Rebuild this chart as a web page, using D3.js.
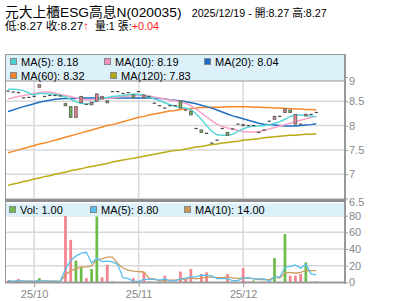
<!DOCTYPE html>
<html>
<head>
<meta charset="utf-8">
<style>
body { margin: 0; background: #fff; }
svg { display: block; font-family: "Liberation Sans", Arial, "Noto Sans CJK TC", sans-serif; }
</style>
</head>
<body>
<script src="https://cdn.jsdelivr.net/npm/d3@7"></script>
<script>

const width = 400;
const height = 301;

const stockName = '元大上櫃ESG高息N(020035)';

const dates = [
  '2025-09-23', '2025-09-24', '2025-09-25', '2025-09-26', '2025-09-30',
  '2025-10-01', '2025-10-02', '2025-10-03', '2025-10-07', '2025-10-08', '2025-10-09',
  '2025-10-13', '2025-10-14', '2025-10-15', '2025-10-16', '2025-10-17',
  '2025-10-20', '2025-10-21', '2025-10-22', '2025-10-23',
  '2025-10-27', '2025-10-28', '2025-10-29', '2025-10-30', '2025-10-31',
  '2025-11-03', '2025-11-04', '2025-11-05', '2025-11-06', '2025-11-07',
  '2025-11-10', '2025-11-11', '2025-11-12', '2025-11-13', '2025-11-14',
  '2025-11-17', '2025-11-18', '2025-11-19', '2025-11-20', '2025-11-21',
  '2025-11-24', '2025-11-25', '2025-11-26', '2025-11-27', '2025-11-28',
  '2025-12-01', '2025-12-02', '2025-12-03', '2025-12-04', '2025-12-05',
  '2025-12-08', '2025-12-09', '2025-12-10', '2025-12-11', '2025-12-12',
  '2025-12-15', '2025-12-16', '2025-12-17', '2025-12-18', '2025-12-19'
];

const prevClose = 8.73;

const open = [
  8.71, 8.69, 8.68, 8.57, 8.58, 8.60, 8.79, 8.60, 8.62, 8.62,
  8.61, 8.45, 8.39, 8.17, 8.47, 8.44, 8.43, 8.50, 8.55, 8.51,
  8.70, 8.70, 8.66, 8.68, 8.63, 8.70, 8.57, 8.60, 8.46, 8.41,
  8.36, 8.41, 8.41, 8.51, 8.32, 8.30, 7.94, 7.91, 7.84, 7.64,
  7.70, 7.94, 7.86, 7.93, 8.03, 8.01, 8.00, 8.00, 7.86, 7.91,
  8.09, 8.13, 8.19, 8.27, 8.32, 8.03, 8.03, 8.20, 8.23, 8.27
];
const high = [
  8.71, 8.69, 8.68, 8.57, 8.58, 8.60, 8.85, 8.60, 8.62, 8.62,
  8.61, 8.47, 8.40, 8.40, 8.61, 8.44, 8.48, 8.66, 8.60, 8.51,
  8.70, 8.70, 8.66, 8.68, 8.63, 8.70, 8.63, 8.60, 8.46, 8.41,
  8.36, 8.41, 8.41, 8.52, 8.32, 8.30, 7.94, 7.91, 7.84, 7.64,
  7.70, 7.94, 7.86, 7.93, 8.03, 8.02, 8.00, 8.00, 7.86, 7.91,
  8.09, 8.20, 8.19, 8.34, 8.32, 8.23, 8.03, 8.25, 8.23, 8.27
];
const low = [
  8.71, 8.69, 8.68, 8.57, 8.58, 8.60, 8.79, 8.60, 8.62, 8.62,
  8.61, 8.40, 8.16, 8.16, 8.47, 8.44, 8.43, 8.50, 8.55, 8.47,
  8.70, 8.70, 8.66, 8.68, 8.57, 8.70, 8.57, 8.60, 8.46, 8.41,
  8.36, 8.41, 8.41, 8.36, 8.32, 8.22, 7.94, 7.86, 7.84, 7.64,
  7.70, 7.94, 7.79, 7.93, 8.03, 8.00, 8.00, 8.00, 7.86, 7.91,
  8.09, 8.13, 8.19, 8.27, 8.27, 8.03, 8.03, 8.20, 8.23, 8.27
];
const close = [
  8.71, 8.69, 8.68, 8.57, 8.58, 8.60, 8.84, 8.60, 8.62, 8.62,
  8.61, 8.41, 8.17, 8.39, 8.60, 8.44, 8.48, 8.65, 8.60, 8.47,
  8.70, 8.70, 8.66, 8.68, 8.57, 8.70, 8.63, 8.60, 8.46, 8.41,
  8.36, 8.41, 8.41, 8.36, 8.32, 8.22, 7.94, 7.86, 7.84, 7.64,
  7.70, 7.94, 7.80, 7.93, 8.03, 8.02, 8.00, 8.00, 7.86, 7.91,
  8.09, 8.19, 8.19, 8.34, 8.27, 8.23, 8.03, 8.23, 8.23, 8.27
];
const volume = [
  2, 0, 4, 0, 1, 0, 5, 1, 0, 0,
  0, 80, 51, 26, 18, 5, 16, 79, 6, 21,
  1, 0, 0, 0, 5, 0, 12, 1, 0, 0,
  8, 0, 0, 13, 4, 16, 0, 10, 12, 0,
  0, 0, 10, 0, 0, 17, 1, 3, 0, 1,
  0, 29, 1, 58, 8, 8, 10, 24, 1, 1
];

const ma5 = [
  8.75, 8.75, 8.74, 8.72, 8.67, 8.63, 8.66, 8.66, 8.65, 8.64,
  8.62, 8.59, 8.54, 8.49, 8.46, 8.44, 8.46, 8.52, 8.56, 8.58,
  8.60, 8.61, 8.62, 8.64, 8.65, 8.64, 8.62, 8.59, 8.55, 8.51,
  8.47, 8.43, 8.40, 8.38, 8.36, 8.33, 8.24, 8.13, 8.00, 7.88,
  7.81, 7.80, 7.80, 7.82, 7.88, 7.93, 7.97, 7.99, 7.99, 8.00,
  8.02, 8.05, 8.08, 8.13, 8.19, 8.22, 8.22, 8.21, 8.20, 8.18
];
const ma10 = [
  8.55, 8.58, 8.60, 8.62, 8.64, 8.66, 8.68, 8.69, 8.69, 8.67,
  8.64, 8.62, 8.60, 8.57, 8.54, 8.53, 8.53, 8.54, 8.55, 8.56,
  8.57, 8.59, 8.60, 8.61, 8.62, 8.62, 8.62, 8.61, 8.59, 8.57,
  8.55, 8.53, 8.51, 8.49, 8.46, 8.41, 8.34, 8.26, 8.18, 8.10,
  8.03, 7.98, 7.95, 7.93, 7.90, 7.88, 7.87, 7.87, 7.88, 7.90,
  7.93, 7.96, 7.99, 8.02, 8.05, 8.08, 8.11, 8.14, 8.17, 8.19
];
const ma20 = [
  8.29, 8.32, 8.36, 8.39, 8.42, 8.45, 8.48, 8.50, 8.52, 8.54,
  8.55, 8.56, 8.56, 8.56, 8.57, 8.57, 8.57, 8.57, 8.57, 8.57,
  8.57, 8.57, 8.57, 8.57, 8.57, 8.57, 8.57, 8.57, 8.56, 8.56,
  8.55, 8.53, 8.52, 8.51, 8.49, 8.47, 8.45, 8.42, 8.39, 8.36,
  8.32, 8.28, 8.24, 8.20, 8.17, 8.14, 8.11, 8.08, 8.05, 8.03,
  8.02, 8.01, 8.00, 7.99, 7.99, 7.99, 8.00, 8.01, 8.02, 8.04
];
const ma60 = [
  7.44, 7.47, 7.50, 7.53, 7.56, 7.59, 7.62, 7.64, 7.67, 7.70,
  7.73, 7.76, 7.79, 7.82, 7.85, 7.88, 7.91, 7.94, 7.97, 8.00,
  8.02, 8.05, 8.08, 8.11, 8.14, 8.17, 8.19, 8.22, 8.24, 8.26,
  8.28, 8.30, 8.31, 8.33, 8.34, 8.35, 8.36, 8.37, 8.37, 8.38,
  8.38, 8.38, 8.39, 8.39, 8.39, 8.39, 8.39, 8.38, 8.38, 8.37,
  8.37, 8.36, 8.36, 8.35, 8.35, 8.34, 8.34, 8.33, 8.33, 8.32
];
const ma120 = [
  6.77, 6.80, 6.82, 6.85, 6.87, 6.90, 6.92, 6.95, 6.97, 7.00,
  7.02, 7.04, 7.07, 7.09, 7.11, 7.14, 7.16, 7.18, 7.20, 7.22,
  7.25, 7.27, 7.29, 7.31, 7.33, 7.35, 7.37, 7.39, 7.41, 7.43,
  7.45, 7.47, 7.49, 7.50, 7.52, 7.54, 7.56, 7.57, 7.59, 7.61,
  7.62, 7.64, 7.65, 7.67, 7.68, 7.70, 7.71, 7.72, 7.73, 7.75,
  7.76, 7.77, 7.78, 7.79, 7.80, 7.80, 7.81, 7.82, 7.82, 7.83
];

const priceTicks = [9, 8.5, 8, 7.5, 7, 6.5];
const volTicks = [80, 60, 40, 20, 0];
const monthTicks = ['25/10', '25/11', '25/12'];

// colours
const upColor = '#f3838f';
const downColor = '#6bbd47';
const flatColor = '#a9dc8e';
const gridColor = '#d9d9d9';
const axisColor = '#999';
const legendFill = '#dcf0fa';

const last = dates.length - 1;
const fmt2 = d3.format('.2f');

// moving average over the bars that are available
const movingAvg = (arr, n) => arr.map((d, i) => d3.mean(arr.slice(Math.max(0, i - n + 1), i + 1)));
const volMa5 = movingAvg(volume, 5);
const volMa10 = movingAvg(volume, 10);

const svg = d3.select('body')
              .append('svg')
              .attr('width', width)
              .attr('height', height);

svg.append('rect').attr('width', width).attr('height', height).attr('fill', '#fff');

const x = d3.scaleLinear().domain([0, last]).range([8, 316.3]);
const yPrice = d3.scaleLinear().domain([6.5, 9]).range([198.5, 77]);
const yVol = d3.scaleLinear().domain([0, 80]).range([282.3, 215.7]);

const monthIdx = monthTicks.map(m => dates.findIndex(d => d.slice(2, 4) + '/' + d.slice(5, 7) === m));

// grid
const grid = svg.append('g').attr('stroke', gridColor).attr('stroke-width', 1.5);
grid.selectAll('.hp').data(priceTicks).enter().append('line')
  .attr('x1', 6).attr('x2', 345)
  .attr('y1', d => yPrice(d)).attr('y2', d => yPrice(d));
grid.selectAll('.vp').data(monthIdx).enter().append('line')
  .attr('x1', d => x(d)).attr('x2', d => x(d))
  .attr('y1', 81).attr('y2', 199);
grid.selectAll('.hv').data(volTicks.filter(d => d > 0)).enter().append('line')
  .attr('x1', 6).attr('x2', 345)
  .attr('y1', d => yVol(d)).attr('y2', d => yVol(d));
grid.selectAll('.vv').data(monthIdx).enter().append('line')
  .attr('x1', d => x(d)).attr('x2', d => x(d))
  .attr('y1', 216).attr('y2', 282);

// price moving averages
const priceLine = d3.line().x((d, i) => x(i)).y(d => yPrice(d));
const maSeries = [
  { values: ma120, color: '#b9ab14' },
  { values: ma60, color: '#f58a2c' },
  { values: ma20, color: '#226fc1' },
  { values: ma10, color: '#f6a2ca' },
  { values: ma5, color: '#5ad6d6' }
];
svg.append('g').selectAll('path').data(maSeries).enter().append('path')
  .attr('d', d => priceLine(d.values))
  .attr('fill', 'none')
  .attr('stroke', d => d.color)
  .attr('stroke-width', 1.5);

// candles
const idx = d3.range(dates.length);
const candles = svg.append('g');
candles.selectAll('.wick').data(idx).enter().append('line')
  .attr('x1', i => x(i)).attr('x2', i => x(i))
  .attr('y1', i => yPrice(high[i])).attr('y2', i => yPrice(low[i]))
  .attr('stroke', '#666');
candles.selectAll('.dash').data(idx.filter(i => open[i] === close[i])).enter().append('line')
  .attr('x1', i => x(i) - 1.6).attr('x2', i => x(i) + 1.6)
  .attr('y1', i => yPrice(close[i])).attr('y2', i => yPrice(close[i]))
  .attr('stroke', '#444').attr('stroke-width', 1.2);
candles.selectAll('.body').data(idx.filter(i => open[i] !== close[i])).enter().append('rect')
  .attr('x', i => x(i) - 1.3)
  .attr('width', 2.6)
  .attr('y', i => yPrice(Math.max(open[i], close[i])))
  .attr('height', i => Math.max(1, yPrice(Math.min(open[i], close[i])) - yPrice(Math.max(open[i], close[i]))))
  .attr('fill', i => close[i] > open[i] ? upColor : downColor)
  .attr('stroke', '#666');

// volume bars: coloured by change against previous close
const volColor = i => {
  const p = i === 0 ? prevClose : close[i - 1];
  return close[i] > p ? downColor : close[i] < p ? upColor : flatColor;
};
svg.append('g').selectAll('rect').data(idx.filter(i => volume[i] > 0)).enter().append('rect')
  .attr('x', i => x(i) - 1.35)
  .attr('width', 2.7)
  .attr('y', i => yVol(volume[i]))
  .attr('height', i => yVol(0) - yVol(volume[i]))
  .attr('fill', volColor);

const volLine = d3.line().x((d, i) => x(i)).y(d => yVol(d));
svg.append('path').attr('d', volLine(volMa10)).attr('fill', 'none').attr('stroke', '#cc9a5c').attr('stroke-width', 1.3);
svg.append('path').attr('d', volLine(volMa5)).attr('fill', 'none').attr('stroke', '#5bbff0').attr('stroke-width', 1.3);

// legends
svg.append('rect').attr('x', 5.5).attr('y', 54.5).attr('width', 339.5).attr('height', 26.5)
  .attr('fill', legendFill).attr('stroke', axisColor);
svg.append('rect').attr('x', 5.5).attr('y', 203.5).attr('width', 339.5).attr('height', 12.5)
  .attr('fill', legendFill);

const priceLegend = [
  { label: 'MA(5)', value: ma5[last], color: '#4fd0d0', sx: 10.5, y: 58.5 },
  { label: 'MA(10)', value: ma10[last], color: '#f48fbf', sx: 104.5, y: 58.5 },
  { label: 'MA(20)', value: ma20[last], color: '#1b6cc0', sx: 204.5, y: 58.5 },
  { label: 'MA(60)', value: ma60[last], color: '#f5822a', sx: 10.5, y: 72.5 },
  { label: 'MA(120)', value: ma120[last], color: '#b5a80f', sx: 110.5, y: 72.5 }
];
const volLegend = [
  { label: 'Vol', value: volume[last], color: '#6bbd47', sx: 9.5, y: 206.5 },
  { label: 'MA(5)', value: volMa5[last], color: '#5bbff0', sx: 90.5, y: 206.5 },
  { label: 'MA(10)', value: volMa10[last], color: '#c99654', sx: 184.5, y: 206.5 }
];
const legendItems = svg.append('g').selectAll('g').data(priceLegend.concat(volLegend)).enter().append('g');
legendItems.append('rect')
  .attr('x', d => d.sx).attr('y', d => d.y)
  .attr('width', 6).attr('height', 6)
  .attr('fill', d => d.color).attr('stroke', '#888');
legendItems.append('text')
  .attr('x', d => d.sx + 10.5).attr('y', d => d.y + 7.2)
  .attr('font-size', 11).attr('fill', '#000')
  .text(d => `${d.label}: ${fmt2(d.value)}`);

// frame
svg.append('line').attr('x1', 5.5).attr('x2', 5.5).attr('y1', 54).attr('y2', 283).attr('stroke', axisColor);
svg.append('line').attr('x1', 345).attr('x2', 345).attr('y1', 54).attr('y2', 283.5).attr('stroke', axisColor).attr('stroke-width', 2);
svg.append('line').attr('x1', 5).attr('x2', 346).attr('y1', 200.5).attr('y2', 200.5).attr('stroke', '#8c8c8c').attr('stroke-width', 3);
svg.append('line').attr('x1', 5).attr('x2', 346).attr('y1', 282.5).attr('y2', 282.5).attr('stroke', axisColor).attr('stroke-width', 2);

// axes
const styleAxis = g => {
  g.select('.domain').remove();
  g.selectAll('line').attr('stroke', axisColor);
  g.selectAll('text').attr('fill', '#888').attr('font-size', 11).attr('font-family', null);
};
const priceAxis = svg.append('g').attr('transform', 'translate(345,0)')
  .call(d3.axisRight(yPrice).tickValues(priceTicks).tickSize(3).tickPadding(1).tickFormat(d3.format('')))
  .call(styleAxis);
priceAxis.selectAll('text').attr('dy', d => d === 9 ? '0.72em' : d === 6.5 ? '0.62em' : '0.32em');
svg.append('g').attr('transform', 'translate(345,0)')
  .call(d3.axisRight(yVol).tickValues(volTicks).tickSize(3).tickPadding(1))
  .call(styleAxis);
svg.append('g').attr('transform', 'translate(0,283)')
  .call(d3.axisBottom(x).tickValues(monthIdx).tickSize(4).tickPadding(3).tickFormat((d, i) => monthTicks[i]))
  .call(styleAxis);

// header
const chg = close[last] - close[last - 1];
const head = svg.append('g').attr('fill', '#000');
head.append('text').attr('x', 5).attr('y', 17.2).attr('font-size', 13.5)
  .attr('textLength', 176.5).attr('lengthAdjust', 'spacingAndGlyphs')
  .text(stockName);
head.append('text').attr('x', 191.7).attr('y', 17.2).attr('font-size', 11)
  .attr('textLength', 135).attr('lengthAdjust', 'spacingAndGlyphs')
  .text(`${dates[last].replace(/-/g, '/')} - 開:${fmt2(open[last])} 高:${fmt2(high[last])}`);

const line2a = head.append('text').attr('x', 5).attr('y', 30).attr('font-size', 11.5)
  .attr('textLength', 84).attr('lengthAdjust', 'spacingAndGlyphs');
line2a.append('tspan').text(`低:${fmt2(low[last])} 收:${fmt2(close[last])}`);
line2a.append('tspan').attr('fill', '#ff1a1a').attr('font-weight', 'bold')
  .text(chg > 0 ? '↑' : chg < 0 ? '↓' : '');

const line2b = head.append('text').attr('x', 95).attr('y', 30).attr('font-size', 11.5)
  .attr('textLength', 64).attr('lengthAdjust', 'spacingAndGlyphs');
line2b.append('tspan').text(`量:${volume[last]} 張:`);
line2b.append('tspan').attr('fill', '#ff1a1a').text(d3.format('+.2f')(chg));

</script>
</body>
</html>
